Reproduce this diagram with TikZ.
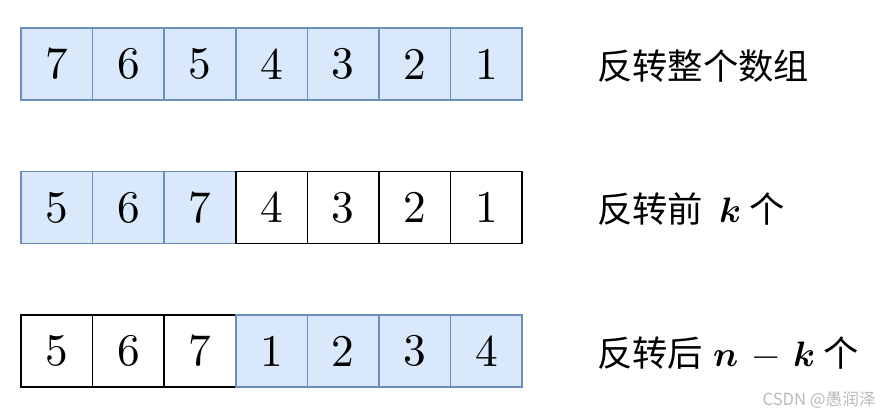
\documentclass[tikz,border=0pt]{standalone}
\usepackage{fontspec}
\usepackage{unicode-math}
\setmathfont{Latin Modern Math}
\newfontfamily\cjk{Noto Sans CJK SC}
\definecolor{cellblue}{HTML}{DAE8FC}
\definecolor{lineblue}{HTML}{6C8EBF}
\begin{document}
\begin{tikzpicture}[x=0.75pt,y=-0.75pt,
  cell/.style={rectangle,draw=black,line width=1.1pt,minimum width=53.7pt,minimum height=54pt,inner sep=0pt,font=\fontsize{34}{34}\selectfont},
  hl/.style={cell,fill=cellblue,draw=lineblue},
  caption/.style={anchor=west,inner sep=0pt,font=\cjk\fontsize{26.5}{26.5}\selectfont}]
  \useasboundingbox (0,0) rectangle (880,416);
  \foreach \v [count=\i] in {7,6,5,4,3,2,1}
    \node[hl] (a\i) at (71.6*\i-14.8,64) {$\v$};
  \foreach \v/\s [count=\i] in {5/hl,6/hl,7/hl,4/cell,3/cell,2/cell,1/cell}
    \node[\s] (b\i) at (71.6*\i-14.8,207.5) {$\v$};
  \foreach \v/\s [count=\i] in {5/cell,6/cell,7/cell,1/hl,2/hl,3/hl,4/hl}
    \node[\s] (c\i) at (71.6*\i-14.8,351) {$\v$};
  \node[caption] (la) at (597,66) {反转整个数组};
  \node[caption] (lb) at (597,209.5) {反转前\hspace{0.45em}$\symbfit{k}$\hspace{0.25em}个};
  \node[caption] (lc) at (597,353) {反转后\hspace{0.28em}$\symbfit{n}\mkern3mu-\mkern3mu\symbfit{k}$\hspace{0.25em}个};
  \node[anchor=east,inner sep=0pt,text=black!27,font=\cjk\fontsize{12.5}{12.5}\selectfont] (wm) at (876,400) {CSDN @愚润泽};
\end{tikzpicture}
\end{document}
